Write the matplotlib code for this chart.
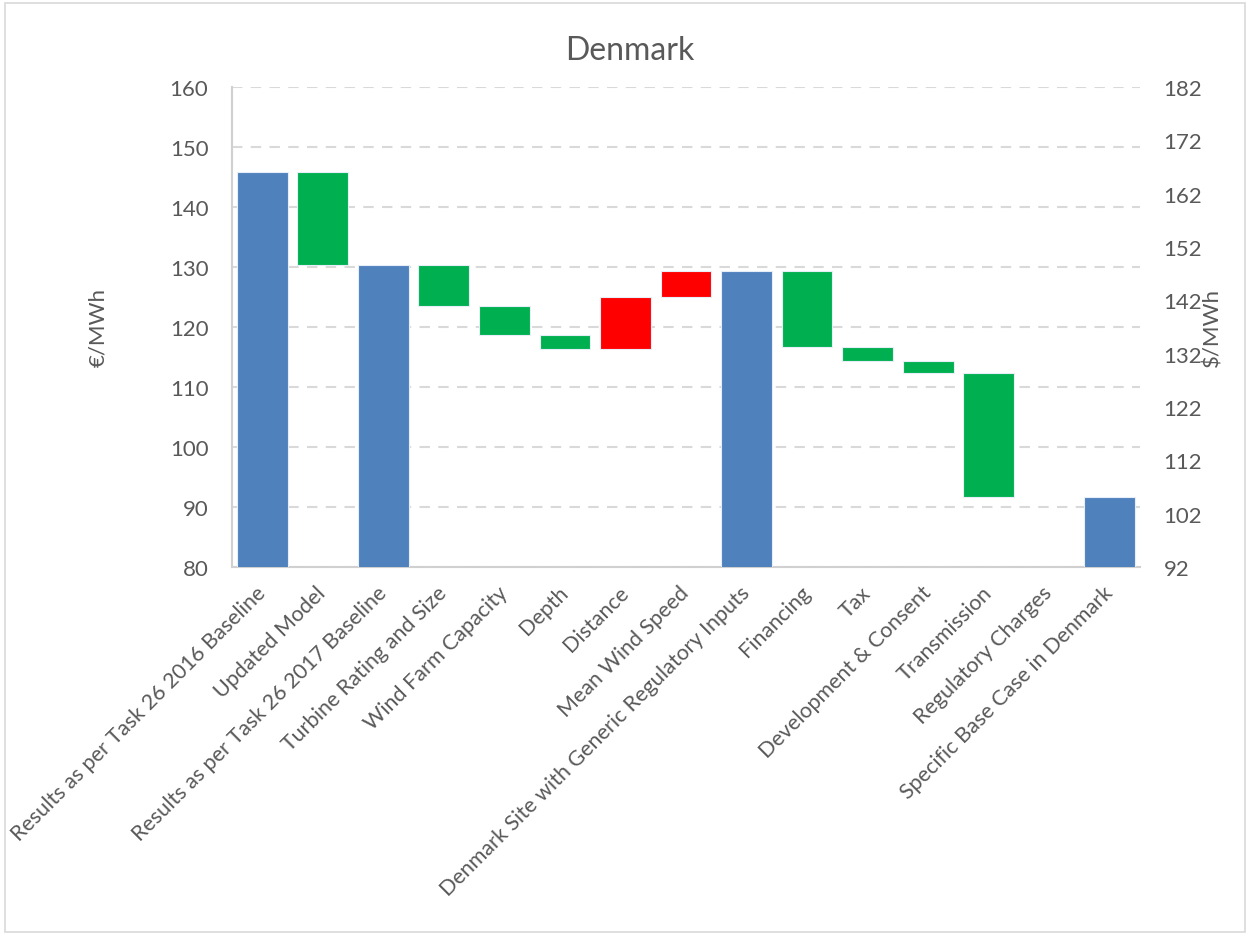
import matplotlib.pyplot as plt
from matplotlib.patches import Rectangle

plt.rcParams['font.family'] = ['Lato', 'DejaVu Sans']

labels = ['Results as per Task 26 2016 Baseline', 'Updated Model',
          'Results as per Task 26 2017 Baseline', 'Turbine Rating and Size',
          'Wind Farm Capacity', 'Depth', 'Distance', 'Mean Wind Speed',
          'Denmark Site with Generic Regulatory Inputs', 'Financing', 'Tax',
          'Development & Consent', 'Transmission', 'Regulatory Charges',
          'Specific Base Case in Denmark']
# 'total' bars start at zero, 'delta' bars float on the running total
kinds = ['total', 'delta', 'total', 'delta', 'delta', 'delta', 'delta', 'delta',
         'total', 'delta', 'delta', 'delta', 'delta', 'delta', 'total']
values = [145.9, -15.5, 130.4, -6.85, -4.85, -2.4, 8.75, 4.2,
          129.25, -12.65, -2.3, -1.95, -20.75, 0.0, 91.6]

left_ticks = [80, 90, 100, 110, 120, 130, 140, 150, 160]
right_ticks = [92, 102, 112, 122, 132, 142, 152, 162, 172, 182]

blue = '#4F81BD'
green = '#00B050'
red = '#FF0000'
txt = '#595959'

bottoms = []
heights = []
colors = []
run = 0
for k, v in zip(kinds, values):
    if k == 'total':
        bottoms.append(0)
        heights.append(v)
        colors.append(blue)
        run = v
    else:
        bottoms.append(run)
        heights.append(v)
        colors.append(green if v < 0 else red)
        run = run + v
lws = [0.8 if h != 0 else 0 for h in heights]

fig = plt.figure(figsize=(12.5, 9.37), dpi=100)
ax = fig.add_axes([0.1856, 0.394, 0.7264, 0.512])

x = range(len(labels))
ax.bar(x, heights, bottom=bottoms, width=0.84, color=colors,
       edgecolor='#e8eef7', linewidth=lws, zorder=3)

ax.set_xlim(-0.5, len(labels) - 0.5)
ax.set_ylim(80, 160)
ax.set_yticks(left_ticks)
ax.yaxis.grid(True, color='#d9d9d9', linestyle=(0, (5, 4)), linewidth=1.5, zorder=0)
ax.set_axisbelow(True)

for s in ['top', 'right']:
    ax.spines[s].set_visible(False)
for s in ['left', 'bottom']:
    ax.spines[s].set_color('#d0d0d0')
    ax.spines[s].set_linewidth(1.5)

ax.tick_params(axis='y', length=0, pad=17, labelsize=16, labelcolor=txt)
ax.tick_params(axis='x', length=0, pad=16, labelsize=15.5, labelcolor=txt)
ax.set_xticks(list(x))
ax.set_xticklabels(labels, rotation=45, ha='right', va='center',
                   rotation_mode='anchor')
ax.set_ylabel('€/MWh', fontsize=16, color=txt, labelpad=44)

ax2 = ax.twinx()
ax2.set_ylim(92, 182)
ax2.set_yticks(right_ticks)
for s in ['top', 'right', 'left', 'bottom']:
    ax2.spines[s].set_visible(False)
ax2.tick_params(axis='y', length=0, pad=17, labelsize=16, labelcolor=txt)
ax2.set_ylabel('$/MWh', fontsize=16, color=txt, labelpad=0)

fig.text(0.504, 0.946, 'Denmark', ha='center', va='center', fontsize=23, color=txt)

fig.patches.append(Rectangle((0.004, 0.004), 0.992, 0.992, transform=fig.transFigure,
                             fill=False, edgecolor='#d9d9d9', linewidth=1.2))

fig.savefig('out.png', dpi=100)
